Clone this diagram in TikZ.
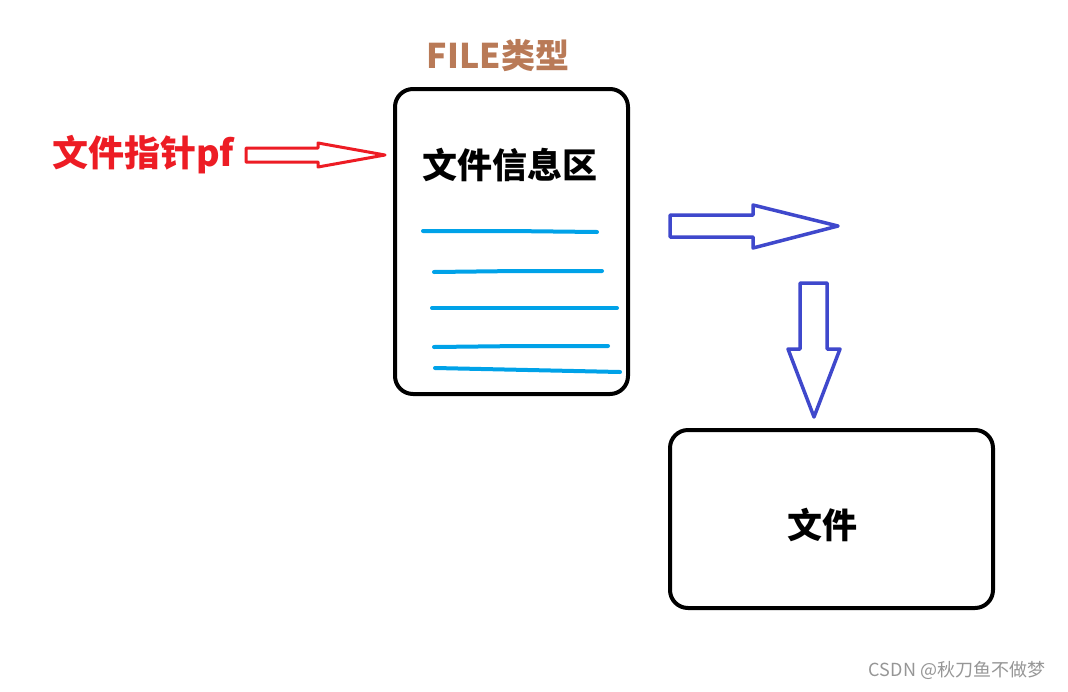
\documentclass[tikz,border=0pt]{standalone}
\usepackage{fontspec}
\newfontfamily\cjk{Noto Sans CJK SC}
\usetikzlibrary{positioning,calc}
\definecolor{paintred}{RGB}{237,28,36}
\definecolor{paintbrown}{RGB}{185,122,87}
\definecolor{paintcyan}{RGB}{0,162,232}
\definecolor{paintindigo}{RGB}{63,72,204}
\definecolor{markgray}{RGB}{150,150,150}

\begin{document}
\begin{tikzpicture}[x=1pt,y=-1pt,
  card/.style={draw, line width=4pt, rounded corners=18pt, inner sep=0pt},
  bigtxt/.style={font=\cjk\bfseries\fontsize{35}{40}\selectfont, inner sep=0pt},
  textline/.style={paintcyan, line width=4pt, line cap=round},
  hollow/.style={line width=3.5pt, line join=round}
]
  \useasboundingbox[fill=white] (0,0) rectangle (1068,691);

  % the FILE structure and the file on disk
  \node[card, minimum width=233pt, minimum height=305pt](info) at (511.5,241.5){};
  \node[card, minimum width=323pt, minimum height=178pt](disk) at (831.5,519){};

  \node[bigtxt, text=paintbrown, font=\cjk\bfseries\fontsize{34}{38}\selectfont]
       (ftype) at (498,56){FILE类型};
  \node[bigtxt](infotxt) at (510,165){文件信息区};
  \node[bigtxt](disktxt) at (822,525){文件};
  \node[bigtxt, text=paintred, anchor=west,
        font=\cjk\bfseries\fontsize{36}{40}\selectfont](pf) at (52,155){文件指针pf};

  % lines of the info area
  \draw[textline](423,231)--(510,231)--(597,232);
  \draw[textline](434,272)--(518,271)--(602,271);
  \draw[textline](432,308)--(617,308);
  \draw[textline](434,347)--(521,346)--(608,346);
  \draw[textline](435,368)--(528,370)--(620,372);

  % hollow arrows
  \coordinate(pftip) at (385,155);
  \draw[hollow, paintred, line width=3pt]
       (246,148)--(318,148)--(318,143)--(pftip)--(318,167)--(318,162)--(246,162)--cycle;
  \coordinate(righttip) at (838,226);
  \draw[hollow, paintindigo]
       (670,215)--(753,215)--(753,205)--(righttip)--(753,248)--(753,237)--(670,237)--cycle;
  \coordinate(downtip) at (814,417);
  \draw[hollow, paintindigo]
       (800,283)--(827,283)--(827,349)--(840,349)--(downtip)--(788,349)--(800,349)--cycle;

  \node[text=markgray, font=\cjk\fontsize{18}{20}\selectfont, inner sep=0pt]
       (mark) at (957,670){CSDN @秋刀鱼不做梦};
\end{tikzpicture}
\end{document}
